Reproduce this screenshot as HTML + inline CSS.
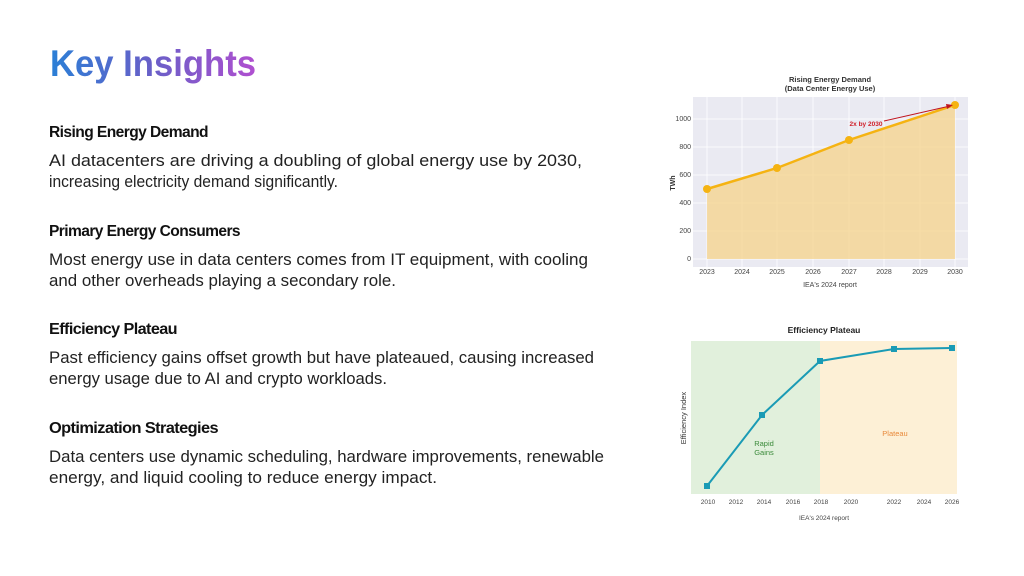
<!DOCTYPE html>
<html><head><meta charset="utf-8"><style>
html,body{margin:0;padding:0;background:#fff;}
svg{display:block;font-family:"Liberation Sans",sans-serif;}
.h{font-weight:bold;font-size:16px;fill:#111;letter-spacing:-0.6px}
.b{font-size:16.5px;fill:#222}
.t{font-size:7px;fill:#444}
</style></head><body>
<svg width="1024" height="576" viewBox="0 0 1024 576" xmlns="http://www.w3.org/2000/svg">
<defs><linearGradient id="g" x1="50" x2="256" y1="0" y2="0" gradientUnits="userSpaceOnUse">
<stop offset="0" stop-color="#2a7fd6"/><stop offset="0.5" stop-color="#6a5fc8"/><stop offset="1" stop-color="#b04fd0"/></linearGradient></defs>
<text x="50" y="76" font-size="37" font-weight="bold" fill="url(#g)" textLength="206" lengthAdjust="spacingAndGlyphs">Key Insights</text>

<text class="h" x="49" y="137" textLength="159" lengthAdjust="spacingAndGlyphs">Rising Energy Demand</text>
<text class="b" x="49" y="166" textLength="533" lengthAdjust="spacingAndGlyphs">AI datacenters are driving a doubling of global energy use by 2030,</text>
<text class="b" x="49" y="187" textLength="289" lengthAdjust="spacingAndGlyphs">increasing electricity demand significantly.</text>

<text class="h" x="49" y="236" textLength="191" lengthAdjust="spacingAndGlyphs">Primary Energy Consumers</text>
<text class="b" x="49" y="265" textLength="539" lengthAdjust="spacingAndGlyphs">Most energy use in data centers comes from IT equipment, with cooling</text>
<text class="b" x="49" y="286" textLength="347" lengthAdjust="spacingAndGlyphs">and other overheads playing a secondary role.</text>

<text class="h" x="49" y="334" textLength="128" lengthAdjust="spacingAndGlyphs">Efficiency Plateau</text>
<text class="b" x="49" y="363" textLength="545" lengthAdjust="spacingAndGlyphs">Past efficiency gains offset growth but have plateaued, causing increased</text>
<text class="b" x="49" y="384" textLength="338" lengthAdjust="spacingAndGlyphs">energy usage due to AI and crypto workloads.</text>

<text class="h" x="49" y="433" textLength="169" lengthAdjust="spacingAndGlyphs">Optimization Strategies</text>
<text class="b" x="49" y="462" textLength="555" lengthAdjust="spacingAndGlyphs">Data centers use dynamic scheduling, hardware improvements, renewable</text>
<text class="b" x="49" y="483" textLength="388" lengthAdjust="spacingAndGlyphs">energy, and liquid cooling to reduce energy impact.</text>

<!-- Chart 1 -->
<text x="830" y="82" font-size="7.5" font-weight="bold" fill="#333" text-anchor="middle">Rising Energy Demand</text>
<text x="830" y="91" font-size="7.5" font-weight="bold" fill="#333" text-anchor="middle">(Data Center Energy Use)</text>
<rect x="693" y="97" width="275" height="170" fill="#eaeaf2"/>
<g stroke="#fff" stroke-width="0.8">
<line x1="693" x2="968" y1="259" y2="259"/><line x1="693" x2="968" y1="231" y2="231"/><line x1="693" x2="968" y1="203" y2="203"/><line x1="693" x2="968" y1="175" y2="175"/><line x1="693" x2="968" y1="147" y2="147"/><line x1="693" x2="968" y1="119" y2="119"/>
<line x1="707" x2="707" y1="97" y2="267"/><line x1="742" x2="742" y1="97" y2="267"/><line x1="777" x2="777" y1="97" y2="267"/><line x1="813" x2="813" y1="97" y2="267"/><line x1="849" x2="849" y1="97" y2="267"/><line x1="884" x2="884" y1="97" y2="267"/><line x1="920" x2="920" y1="97" y2="267"/><line x1="955" x2="955" y1="97" y2="267"/>
</g>
<polygon points="707,189 777,168 849,140 955,105 955,259 707,259" fill="#f5d38a" opacity="0.75"/>
<polyline points="707,189 777,168 849,140 955,105" fill="none" stroke="#f5b312" stroke-width="2.5"/>
<g fill="#f5b312"><circle cx="707" cy="189" r="4"/><circle cx="777" cy="168" r="4"/><circle cx="849" cy="140" r="4"/><circle cx="955" cy="105" r="4"/></g>
<line x1="884" y1="121" x2="950" y2="106" stroke="#c0141e" stroke-width="1"/>
<polygon points="953,105 946,104 947,109" fill="#c0141e"/>
<text x="866" y="126" font-size="6.5" font-weight="bold" fill="#d0202a" text-anchor="middle">2x by 2030</text>
<g class="t" text-anchor="end"><text x="691" y="261">0</text><text x="691" y="233">200</text><text x="691" y="205">400</text><text x="691" y="177">600</text><text x="691" y="149">800</text><text x="691" y="121">1000</text></g>
<g class="t" text-anchor="middle"><text x="707" y="274">2023</text><text x="742" y="274">2024</text><text x="777" y="274">2025</text><text x="813" y="274">2026</text><text x="849" y="274">2027</text><text x="884" y="274">2028</text><text x="920" y="274">2029</text><text x="955" y="274">2030</text></g>
<text x="830" y="287" font-size="7" fill="#444" text-anchor="middle">IEA's 2024 report</text>
<text x="675" y="183" font-size="7" font-weight="bold" fill="#333" text-anchor="middle" transform="rotate(-90 675 183)">TWh</text>

<!-- Chart 2 -->
<text x="824" y="333" font-size="8.5" font-weight="bold" fill="#222" text-anchor="middle">Efficiency Plateau</text>
<rect x="691" y="341" width="129" height="153" fill="#e1f0dc"/>
<rect x="820" y="341" width="137" height="153" fill="#fdf0d6"/>
<polyline points="707,486 762,415 820,361 894,349 952,348" fill="none" stroke="#1a9bb5" stroke-width="2"/>
<g fill="#1a9bb5"><rect x="704" y="483" width="6" height="6"/><rect x="759" y="412" width="6" height="6"/><rect x="817" y="358" width="6" height="6"/><rect x="891" y="346" width="6" height="6"/><rect x="949" y="345" width="6" height="6"/></g>
<text x="764" y="446" font-size="7.5" fill="#3a8a3a" text-anchor="middle">Rapid</text>
<text x="764" y="455" font-size="7.5" fill="#3a8a3a" text-anchor="middle">Gains</text>
<text x="895" y="436" font-size="7.5" fill="#e8893a" text-anchor="middle">Plateau</text>
<text x="686" y="418" font-size="7.5" fill="#333" text-anchor="middle" transform="rotate(-90 686 418)">Efficiency Index</text>
<g class="t" text-anchor="middle" style="font-size:6.5px"><text x="708" y="504">2010</text><text x="736" y="504">2012</text><text x="764" y="504">2014</text><text x="793" y="504">2016</text><text x="821" y="504">2018</text><text x="851" y="504">2020</text><text x="894" y="504">2022</text><text x="924" y="504">2024</text><text x="952" y="504">2026</text></g>
<text x="824" y="520" font-size="6.5" fill="#444" text-anchor="middle">IEA's 2024 report</text>
</svg>
</body></html>
